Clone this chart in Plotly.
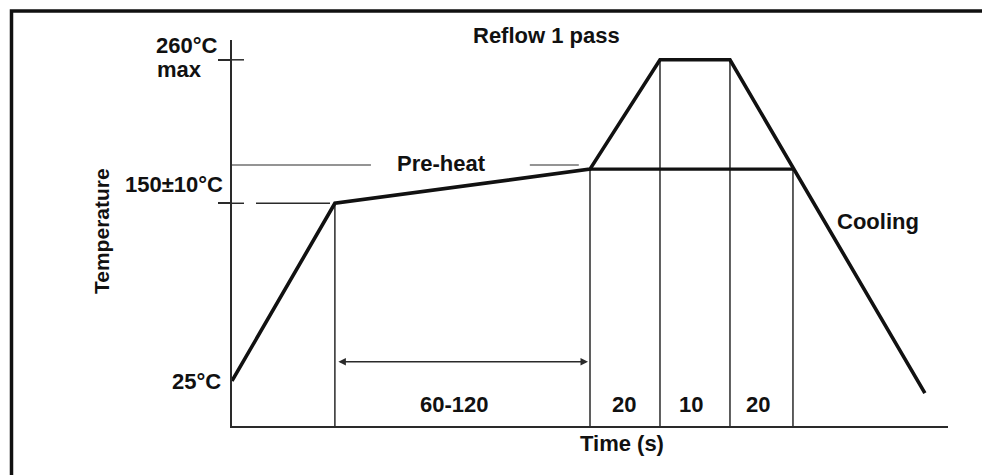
import plotly.graph_objects as go

# ---------------- data (schematic lead-free reflow profile) ----------------
# time axis is schematic (s); temperature axis in °C
profile_time = [0, 29.4, 102.3, 122.3, 142.3, 198.0]
profile_temp = [25, 155, 180, 260, 260, 16]

# phase boundaries (vertical guide lines) and the temperature where they meet the profile
boundary_time = [29.4, 102.3, 122.3, 142.3, 160.3]
boundary_temp = [155, 180, 260, 260, 180]

# plateau line across the reflow window
plateau_time = [102.3, 160.3]
plateau_temp = [180, 180]

# pre-heat band upper limit (drawn in two pieces around the label)
preheat_band_temp = 183
preheat_band_time = [[0, 39.7], [85.1, 99.1]]

# duration labels under the profile
segment_labels = ["60-120", "20", "10", "20"]
segment_label_time = [63.7, 112.0, 131.3, 150.3]
segment_label_temp = 7.5

# y tick values / labels
ytick_vals = [25, 155, 260]
ytick_text = ["25°C", "150±10°C", "260°C"]

# pre-heat dimension arrow (between pre-heat start and end)
arrow_temp = 39

# ---------------- layout constants ----------------
PAGE_OFFSET = 8                          # browser default body margin
W, H = 990 - PAGE_OFFSET, 475 - PAGE_OFFSET
L, R, T, B = 232, 948, 40, 426           # plot area in page pixels
X_RANGE = [0, 204.6]
Y_RANGE = [-8, 274.5]
px_per_s = (R - L) / (X_RANGE[1] - X_RANGE[0])

FONT = "Liberation Sans, Arial, Helvetica, sans-serif"
INK = "#111111"
THIN = "#2a2a2a"


def px2paper_x(px):
    return (px - L) / (R - L)


def px2paper_y(py):
    return (B - py) / (B - T)


fig = go.Figure()

# vertical guide lines from time axis up to the profile
vx, vy = [], []
for t, temp in zip(boundary_time, boundary_temp):
    vx += [t, t, None]
    vy += [Y_RANGE[0], temp, None]
fig.add_trace(go.Scatter(x=vx, y=vy, mode="lines",
                         line=dict(color=THIN, width=1.5),
                         hoverinfo="skip", showlegend=False))

# pre-heat band line
bx, by = [], []
for seg in preheat_band_time:
    bx += [seg[0], seg[1], None]
    by += [preheat_band_temp, preheat_band_temp, None]
fig.add_trace(go.Scatter(x=bx, y=by, mode="lines",
                         line=dict(color=THIN, width=1.2),
                         hoverinfo="skip", showlegend=False))

# inner halves of the y tick marks + dashed extension of 150 °C tick
tick_in = 12 / px_per_s
tx = [0, tick_in, None, 0, tick_in, None, 2 * tick_in, 98 / px_per_s, None]
ty = [ytick_vals[2], ytick_vals[2], None,
      ytick_vals[1], ytick_vals[1], None,
      ytick_vals[1], ytick_vals[1], None]
fig.add_trace(go.Scatter(x=tx, y=ty, mode="lines",
                         line=dict(color=THIN, width=1.5),
                         hoverinfo="skip", showlegend=False))

# plateau line
fig.add_trace(go.Scatter(x=plateau_time, y=plateau_temp, mode="lines",
                         line=dict(color=INK, width=3.2),
                         hoverinfo="skip", showlegend=False))

# reflow profile
fig.add_trace(go.Scatter(x=profile_time, y=profile_temp, mode="lines",
                         line=dict(color=INK, width=3.6),
                         cliponaxis=False,
                         hoverinfo="skip", showlegend=False))

annotations = []


def txt(text, size=22, **kw):
    d = dict(text="<b>" + text + "</b>", showarrow=False,
             xanchor="center", yanchor="middle",
             font=dict(family=FONT, size=size, color=INK))
    d.update(kw)
    annotations.append(d)


# y tick labels
txt(ytick_text[0], xref="paper", x=0, xanchor="right", xshift=-9,
    yref="y", y=ytick_vals[0], yshift=-1)
txt(ytick_text[1], xref="paper", x=0, xanchor="right", xshift=-7,
    yref="y", y=ytick_vals[1], yshift=19)
txt(ytick_text[2], xref="paper", x=0, xanchor="right", xshift=-12,
    yref="y", y=ytick_vals[2], yshift=14.5)
txt("max", xref="paper", x=0, xanchor="left", xshift=-77,
    yref="y", y=ytick_vals[2], yshift=-9.5)

# phase labels
txt("Reflow 1 pass", xref="x", x=90, yref="paper", y=1, yshift=5)
txt("Pre-heat", xref="x", x=60, yref="y", y=184)
txt("Cooling", xref="x", x=184.6, yref="y", y=142)

# duration labels
for lab, t in zip(segment_labels, segment_label_time):
    txt(lab, xref="x", x=t, yref="y", y=segment_label_temp)

# axis titles
txt("Time (s)", xref="x", x=111.4, yref="paper", y=0, yshift=-17)
txt("Temperature", size=21, xref="paper", x=0, xshift=-(L - 101.5),
    yref="paper", y=px2paper_y(231.5), textangle=-90)

# double-headed dimension arrow for pre-heat duration
annotations.append(dict(
    x=boundary_time[1], y=arrow_temp, xref="x", yref="y",
    ax=boundary_time[0], ay=arrow_temp, axref="x", ayref="y",
    text="", showarrow=True, arrowside="end+start", arrowhead=2,
    arrowsize=1.0, arrowwidth=1.5, arrowcolor=THIN,
    standoff=2, startstandoff=2))

# frame (left and top borders)
frame_path = "M {x0},{yb} L {x0},{yt} L {xr},{yt}".format(
    x0=px2paper_x(11.5), yb=px2paper_y(480), yt=px2paper_y(11),
    xr=px2paper_x(995))

fig.update_layout(
    width=W, height=H,
    margin=dict(l=L - PAGE_OFFSET, r=W - (R - PAGE_OFFSET),
                t=T - PAGE_OFFSET, b=H - (B - PAGE_OFFSET), pad=0),
    paper_bgcolor="white", plot_bgcolor="white",
    showlegend=False,
    annotations=annotations,
    shapes=[dict(type="path", xref="paper", yref="paper", path=frame_path,
                 line=dict(color=INK, width=3.5))],
    xaxis=dict(range=X_RANGE, showgrid=False, zeroline=False,
               showticklabels=False, ticks="", showline=True,
               linecolor=THIN, linewidth=1.5, fixedrange=True),
    yaxis=dict(range=Y_RANGE, showgrid=False, zeroline=False,
               showticklabels=False, showline=True,
               linecolor=THIN, linewidth=1.5,
               tickmode="array", tickvals=ytick_vals[1:],
               ticks="outside", ticklen=12, tickwidth=1.5,
               tickcolor=THIN, fixedrange=True),
)

fig.write_html("out.html")
